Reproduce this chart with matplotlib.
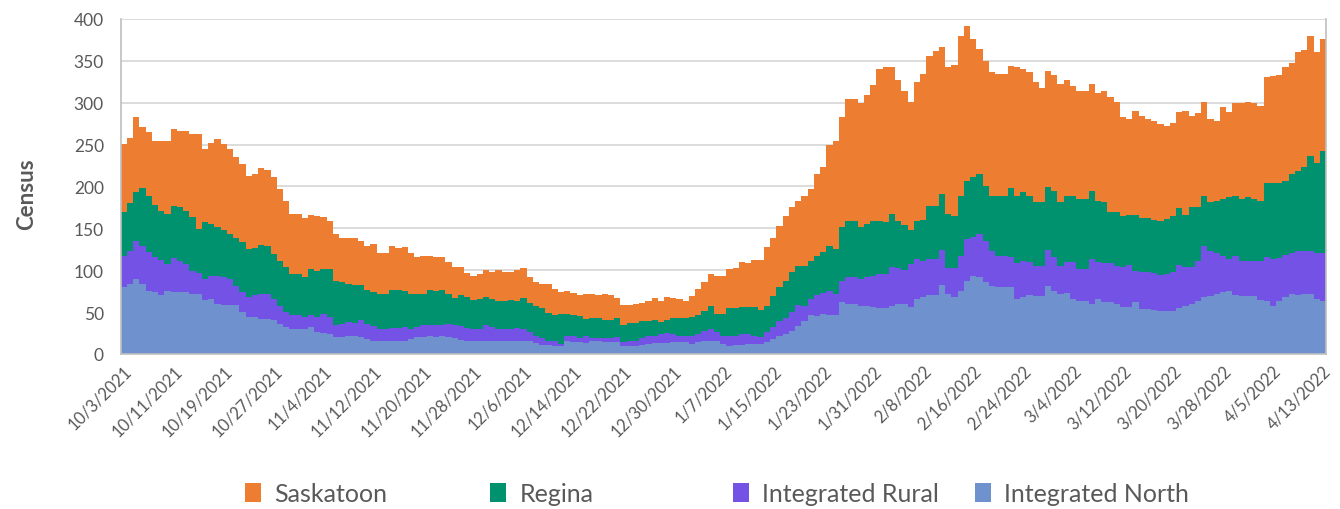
import numpy as np
import pandas as pd
import matplotlib.pyplot as plt

plt.rcParams['font.family'] = ['Lato', 'DejaVu Sans']

dates = pd.date_range("2021-10-03", "2022-04-13", freq="D")

north = [80, 84, 90, 84, 75, 74, 70, 75, 74, 74,
         74, 72, 72, 64, 66, 60, 58, 58, 58, 50,
         44, 44, 42, 42, 41, 36, 32, 30, 30, 30,
         32, 26, 25, 24, 20, 20, 22, 22, 20, 18,
         16, 16, 16, 15, 15, 16, 18, 20, 20, 22,
         20, 21, 20, 19, 17, 16, 16, 16, 16, 15,
         16, 16, 16, 16, 15, 15, 13, 11, 11, 10,
         10, 15, 14, 14, 13, 15, 15, 14, 14, 14,
         9, 10, 10, 11, 12, 13, 13, 13, 14, 14,
         14, 12, 14, 16, 16, 15, 12, 10, 11, 11,
         12, 12, 12, 14, 18, 22, 24, 27, 33, 39,
         46, 45, 48, 46, 46, 62, 60, 60, 57, 57,
         56, 55, 55, 57, 60, 60, 56, 66, 68, 70,
         70, 82, 72, 68, 75, 87, 93, 92, 86, 81,
         80, 80, 80, 66, 68, 70, 69, 69, 81, 75,
         72, 73, 66, 63, 63, 60, 66, 62, 62, 60,
         56, 56, 62, 54, 54, 53, 51, 51, 51, 55,
         57, 60, 63, 68, 69, 72, 74, 75, 70, 69,
         69, 69, 64, 63, 57, 63, 68, 72, 70, 72,
         72, 66, 63]

rural = [37, 39, 45, 45, 47, 42, 42, 32, 41, 37,
         33, 27, 25, 26, 27, 33, 34, 32, 23, 24,
         24, 26, 30, 30, 25, 21, 18, 16, 16, 14,
         15, 18, 23, 20, 15, 16, 16, 15, 20, 18,
         17, 14, 14, 16, 16, 16, 12, 12, 14, 12,
         14, 14, 16, 16, 16, 15, 14, 14, 19, 17,
         14, 14, 14, 15, 15, 11, 9, 8, 5, 6,
         2, 7, 8, 5, 9, 4, 4, 5, 5, 6,
         5, 6, 5, 8, 9, 8, 11, 12, 10, 8,
         8, 10, 10, 11, 14, 11, 10, 12, 11, 13,
         12, 10, 8, 12, 14, 17, 19, 23, 25, 18,
         20, 25, 25, 29, 26, 25, 32, 32, 33, 35,
         37, 40, 40, 47, 43, 40, 51, 47, 43, 43,
         43, 42, 31, 35, 42, 50, 47, 51, 49, 42,
         37, 37, 36, 43, 43, 40, 36, 36, 43, 41,
         33, 37, 44, 38, 38, 53, 44, 46, 46, 45,
         48, 50, 37, 44, 44, 44, 43, 44, 47, 51,
         47, 44, 48, 61, 54, 49, 43, 38, 47, 42,
         42, 42, 47, 53, 56, 52, 50, 48, 53, 51,
         51, 55, 57]

regina = [52, 57, 58, 69, 67, 62, 59, 60, 62, 64,
          64, 65, 52, 68, 62, 58, 56, 53, 58, 60,
          57, 57, 58, 57, 53, 54, 54, 50, 49, 48,
          54, 55, 53, 57, 52, 50, 46, 45, 42, 40,
          41, 42, 42, 45, 45, 43, 42, 40, 38, 42,
          41, 41, 36, 32, 37, 37, 34, 36, 33, 34,
          33, 33, 34, 32, 37, 35, 35, 36, 33, 31,
          36, 26, 24, 26, 20, 24, 24, 22, 22, 23,
          21, 21, 22, 20, 18, 19, 14, 16, 19, 21,
          21, 22, 22, 24, 27, 22, 26, 33, 33, 32,
          32, 34, 33, 31, 37, 41, 44, 48, 47, 48,
          45, 47, 49, 54, 53, 65, 67, 67, 62, 63,
          66, 64, 62, 63, 56, 54, 41, 46, 49, 64,
          64, 67, 64, 62, 72, 69, 71, 72, 66, 66,
          72, 72, 82, 80, 82, 79, 76, 76, 75, 79,
          76, 79, 78, 84, 84, 82, 73, 73, 62, 64,
          61, 60, 67, 64, 64, 63, 65, 66, 67, 68,
          62, 71, 64, 60, 58, 62, 68, 74, 72, 74,
          76, 74, 72, 88, 91, 89, 89, 95, 96, 100,
          113, 107, 122]

saskatoon = [82, 78, 90, 73, 76, 76, 83, 87, 92, 91,
             95, 99, 114, 87, 97, 106, 103, 102, 96, 93,
             87, 88, 92, 91, 92, 86, 79, 71, 72, 70,
             65, 66, 62, 58, 56, 52, 55, 57, 53, 53,
             57, 49, 49, 53, 51, 53, 49, 44, 45, 41,
             41, 40, 38, 37, 34, 29, 29, 29, 32, 32,
             37, 35, 34, 37, 36, 31, 29, 29, 35, 30,
             26, 27, 27, 25, 30, 29, 27, 30, 29, 24,
             24, 22, 23, 22, 24, 27, 25, 27, 24, 23,
             20, 25, 31, 35, 38, 45, 45, 46, 48, 54,
             52, 56, 59, 71, 69, 73, 78, 78, 78, 84,
             86, 98, 101, 120, 129, 131, 145, 145, 147, 154,
             162, 181, 186, 176, 168, 160, 153, 166, 174, 179,
             185, 175, 176, 180, 190, 185, 165, 149, 149, 148,
             145, 145, 146, 154, 147, 148, 144, 136, 139, 138,
             141, 138, 132, 129, 129, 127, 129, 133, 137, 132,
             118, 115, 124, 122, 119, 118, 116, 111, 111, 115,
             124, 109, 113, 112, 100, 95, 110, 102, 111, 114,
             114, 115, 113, 127, 128, 129, 136, 132, 142, 140,
             143, 133, 134]

series = ["Integrated North", "Integrated Rural", "Regina", "Saskatoon"]
colors = ["#6F91CE", "#7552E6", "#00926E", "#ED7D31"]
text_color = "#595959"


def edge(v):
    # repeat last value so step='post' draws the final day
    return np.append(v, v[-1])


x = np.arange(len(dates) + 1) - 0.5

fig, ax = plt.subplots(figsize=(13.4, 5.1), dpi=100)
fig.subplots_adjust(left=0.090, right=0.9896, top=0.961, bottom=0.304)

ax.stackplot(x, edge(north), edge(rural), edge(regina), edge(saskatoon),
             colors=colors, labels=series, step='post', linewidth=0)

ax.set_xlim(-0.5, len(dates) - 0.5)
ax.set_ylim(0, 400)
ax.set_yticks(range(0, 401, 50))
ax.yaxis.grid(True, color="#D9D9D9", linewidth=1.3)
ax.set_axisbelow(True)

ticks = np.arange(0, len(dates), 8)
ax.set_xticks(ticks)
ax.set_xticklabels([f"{d.month}/{d.day}/{d.year}" for d in dates[ticks]],
                   rotation=45, ha='right', rotation_mode='anchor')
ax.tick_params(axis='x', length=0, labelsize=12, colors=text_color, pad=6)
ax.tick_params(axis='y', length=0, labelsize=12.5, colors=text_color, pad=12)

ax.spines['top'].set_visible(False)
for s in ['left', 'right', 'bottom']:
    ax.spines[s].set_color("#BFBFBF")
    ax.spines[s].set_linewidth(1.2)

ax.set_ylabel("Census", fontsize=16, fontweight='bold', color=text_color)
ax.yaxis.set_label_coords(-0.069, 0.48)

# legend entries laid out like the Excel legend (reverse stacking order)
legend_x = [245, 490, 733, 975]
handles, labels = ax.get_legend_handles_labels()
for px, h, lab in zip(legend_x, handles[::-1], labels[::-1]):
    fig.legend([h], [lab], loc='center left', bbox_to_anchor=(px / 1340, 1 - 495 / 510),
               frameon=False, fontsize=18, handlelength=0.62, handleheight=0.78,
               handletextpad=0.55, borderpad=0, borderaxespad=0, labelcolor=text_color)

fig.savefig("out.png", dpi=100)
